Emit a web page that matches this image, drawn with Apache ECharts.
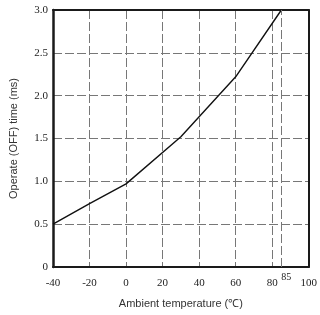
<!DOCTYPE html>
<html>
<head>
	<meta http-equiv="Content-Type" content="text/html;charset=utf-8" />
	<title>Operate time vs ambient temperature</title>
	<script src="https://cdnjs.cloudflare.com/ajax/libs/echarts/6.0.0/echarts.min.js"></script>
	<style>
		html, body { margin: 0; padding: 0; background: #fff; }
	</style>
</head>
<body>
	<div id="grafico" style="width:320px; height:315px;"></div>
	<script>
		// valores
		var temperaturas = [-40, -20, 0, 30, 60, 85];
		var tempos = [0.5, 0.74, 0.97, 1.52, 2.22, 3.0];
		var marcaExtra = [85]; // linha e rótulo extra do eixo x

		var corTexto = '#222';
		var corGrade = '#777';
		var corMoldura = '#1a1a1a';
		var fonteNum = 'Liberation Serif';
		var fonteTitulo = 'Liberation Sans';

		// eixo só para desenhar a moldura por cima da grade
		function moldura(pos) {
			return {
				type: 'value', min: pos === 'top' ? -40 : 0, max: pos === 'top' ? 100 : 3, position: pos,
				axisLine: { show: true, onZero: false, lineStyle: { color: corMoldura, width: 2 } },
				axisTick: { show: false }, axisLabel: { show: false }, splitLine: { show: false }
			};
		}

		var option = {
			animation: false,
			grid: { left: 52, right: 10, top: 10, bottom: 48 },
			xAxis: [{
				type: 'value', min: -40, max: 100, interval: 20,
				name: 'Ambient temperature (℃)', nameLocation: 'middle', nameGap: 31,
				nameTextStyle: { fontFamily: fonteTitulo, fontSize: 11, color: '#333' },
				axisLine: { show: true, onZero: false, lineStyle: { color: corMoldura, width: 2 } },
				axisTick: { show: false },
				axisLabel: { fontFamily: fonteNum, fontSize: 11, color: corTexto, margin: 11 },
				splitLine: { show: true, lineStyle: { color: corGrade, type: [9, 3], width: 1 } }
			}, {
				type: 'value', min: -40, max: 100, position: 'bottom',
				axisLine: { show: false, onZero: false }, axisTick: { show: false }, splitLine: { show: false },
				axisLabel: { customValues: marcaExtra, fontFamily: fonteNum, fontSize: 10, color: corTexto, margin: 5, padding: [0, 0, 0, 10] }
			}, moldura('top')],
			yAxis: [{
				type: 'value', min: 0, max: 3, interval: 0.5,
				name: 'Operate (OFF) time (ms)', nameLocation: 'middle', nameGap: 34,
				nameTextStyle: { fontFamily: fonteTitulo, fontSize: 11, color: '#333' },
				axisLine: { show: true, onZero: false, lineStyle: { color: corMoldura, width: 2.5 } },
				axisTick: { show: false },
				axisLabel: {
					fontFamily: fonteNum, fontSize: 11, color: corTexto, margin: 5, padding: [0, 0, 4, 0],
					formatter: function (v) { return v === 0 ? '0' : v.toFixed(1); }
				},
				splitLine: { show: true, lineStyle: { color: corGrade, type: [9, 3], width: 1 } }
			}, moldura('right')],
			series: [{
				type: 'line',
				data: temperaturas.map(function (t, i) { return [t, tempos[i]]; }),
				symbol: 'none',
				lineStyle: { color: '#111', width: 1.4 },
				markLine: {
					silent: true, symbol: 'none', label: { show: false },
					lineStyle: { color: corGrade, type: [9, 3], width: 1 },
					data: marcaExtra.map(function (v) { return { xAxis: v }; })
				}
			}]
		};

		var chart = echarts.init(document.getElementById('grafico'));
		chart.setOption(option);
	</script>
</body>
</html>
